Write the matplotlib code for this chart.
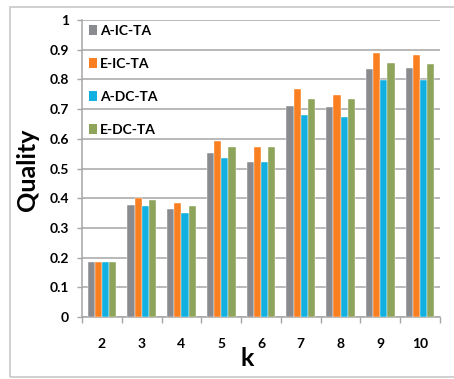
import matplotlib
matplotlib.use("Agg")
import matplotlib.pyplot as plt
import numpy as np
from matplotlib.patches import Rectangle, Patch

plt.rcParams['font.family'] = ['Lato', 'DejaVu Sans']
plt.rcParams['font.weight'] = 'bold'

k_values = ['2', '3', '4', '5', '6', '7', '8', '9', '10']
series_names = ['A-IC-TA', 'E-IC-TA', 'A-DC-TA', 'E-DC-TA']
a_ic_ta = [0.185, 0.377, 0.362, 0.552, 0.522, 0.711, 0.706, 0.834, 0.839]
e_ic_ta = [0.185, 0.400, 0.383, 0.594, 0.572, 0.766, 0.748, 0.890, 0.883]
a_dc_ta = [0.185, 0.374, 0.351, 0.536, 0.522, 0.680, 0.674, 0.798, 0.798]
e_dc_ta = [0.185, 0.394, 0.374, 0.572, 0.572, 0.734, 0.734, 0.856, 0.851]
colors = ['#8a8b8f', '#fa7f20', '#12b0e0', '#8da45a']

fig = plt.figure(figsize=(4.54, 3.79), dpi=100)
fig.patches.append(Rectangle((10 / 454, 2 / 379), 450 / 454, 370 / 379,
                             transform=fig.transFigure, fill=False,
                             edgecolor='#c8c8c8', linewidth=1.2))
ax = fig.add_axes([82 / 454, 1 - 317 / 379, 358 / 454, 297 / 379])

x = np.arange(len(k_values))
width = 0.18
for i, (vals, c, name) in enumerate(zip([a_ic_ta, e_ic_ta, a_dc_ta, e_dc_ta],
                                        colors, series_names)):
    ax.bar(x + (i - 1.5) * width, vals, width, color=c, label=name,
           edgecolor='white', linewidth=0.3, zorder=3)

ax.set_xlim(-0.5, len(k_values) - 0.5)
ax.set_ylim(0, 1)
ax.set_yticks(np.arange(0, 1.01, 0.1))
ax.set_yticklabels(['0', '0.1', '0.2', '0.3', '0.4', '0.5', '0.6', '0.7',
                    '0.8', '0.9', '1'])
ax.yaxis.grid(True, color='#a6a6a6', linewidth=1.1, zorder=0)
ax.set_axisbelow(True)

ax.set_xticks(np.arange(-0.5, len(k_values) + 0.5, 1))
ax.set_xticklabels([])
ax.set_xticks(x, minor=True)
ax.set_xticklabels(k_values, minor=True)
ax.tick_params(axis='x', which='major', length=4.5, width=1, color='#a6a6a6',
               direction='out')
ax.tick_params(axis='x', which='minor', length=0, pad=15, labelsize=10)
ax.tick_params(axis='y', length=3.6, width=1, color='#a6a6a6', pad=6,
               labelsize=10)

for s in ['top', 'right']:
    ax.spines[s].set_visible(False)
for s in ['left', 'bottom']:
    ax.spines[s].set_color('#a6a6a6')
    ax.spines[s].set_linewidth(1.1)

fig.text(27 / 454, 1 - 170 / 379, 'Quality', rotation=90, fontsize=18,
         fontweight='bold', ha='center', va='center')
fig.text(247 / 454, 1 - 358 / 379, 'k', fontsize=18, fontweight='bold',
         ha='center', va='center')

handles = [Patch(facecolor=c, edgecolor='none') for c in colors]
ax.legend(handles, series_names, loc='upper left',
          bbox_to_anchor=(89 / 454, 1 - 25 / 379), bbox_transform=fig.transFigure,
          frameon=False, fontsize=10, handlelength=0.6, handleheight=0.75,
          handletextpad=0.2, labelspacing=1.5, borderaxespad=0, borderpad=0)

fig.savefig('out.png', dpi=100)
